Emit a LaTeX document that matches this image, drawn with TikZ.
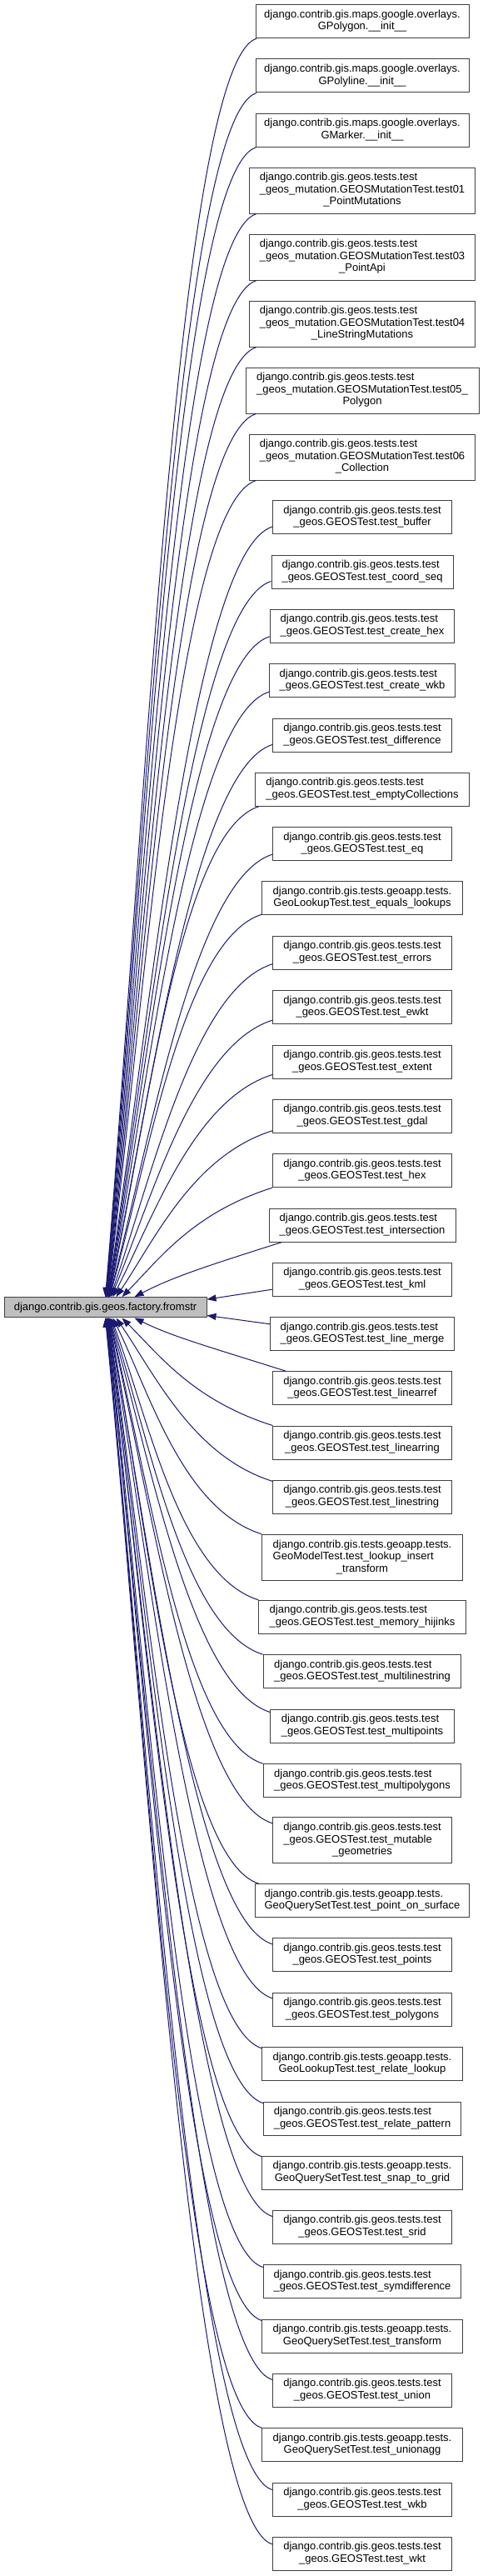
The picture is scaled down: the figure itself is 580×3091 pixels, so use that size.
\documentclass[tikz,border=0pt]{standalone}
\usepackage{fontspec}
\setmainfont{Liberation Sans}
\usetikzlibrary{calc,arrows.meta}
\definecolor{edgeblue}{HTML}{191970}
\definecolor{boxline}{HTML}{404040}
\definecolor{mainfill}{HTML}{BFBFBF}
\newcommand\lblii[2]{\begin{tabular}{@{}l@{}}#1\\\multicolumn{1}{@{}c@{}}{#2}\end{tabular}}
\newcommand\lbliii[3]{\begin{tabular}{@{}l@{}}#1\\#2\\\multicolumn{1}{@{}c@{}}{#3}\end{tabular}}
\newcommand\upedge[4]{\draw[edge] let \p1=($(#1.south west)+(#2,-#3)$), \p2=($(main.north west)+(#4,0)$) in (\p1) .. controls ({\x1-95pt},{\y1-30pt}) and ({\x2+0.25*(\x1-\x2)},{\y2+0.35*(\y1-\y2)}) .. (\p2);}
\newcommand\downedge[4]{\draw[edge] let \p1=($(#1.north west)+(#2,#3)$), \p2=($(main.south west)+(#4,0)$) in (\p1) .. controls ({\x1-95pt},{\y1+30pt}) and ({\x2+0.25*(\x1-\x2)},{\y2+0.35*(\y1-\y2)}) .. (\p2);}
\newcommand\GT{django.contrib.gis.geos.tests.test}
\newcommand\GA{django.contrib.gis.tests.geoapp.tests.}
\newcommand\GM{django.contrib.gis.maps.google.overlays.}
\begin{document}
\begin{tikzpicture}[x=1pt,y=-1pt,
  font=\fontsize{13}{14.5}\selectfont,
  box/.style={draw=boxline, line width=1pt, fill=white, rectangle, inner xsep=2pt, inner ysep=0pt, minimum height=40pt, text=black},
  tall/.style={minimum height=55pt},
  edge/.style={draw=edgeblue, line width=1pt, -{Triangle[length=11pt,width=8pt]}}]
\useasboundingbox (0,0) rectangle (580,3091);
\node[box, fill=mainfill, minimum width=243pt, minimum height=24.3pt] (main) at (126.5,1568.8) {django.contrib.gis.geos.factory.fromstr};
\node[box, minimum width=256pt] (n1) at (435,25.7) {\lblii{\GM}{GPolygon.\_\_init\_\_}};
\node[box, minimum width=256pt] (n2) at (435,91) {\lblii{\GM}{GPolyline.\_\_init\_\_}};
\node[box, minimum width=256pt] (n3) at (435,156.3) {\lblii{\GM}{GMarker.\_\_init\_\_}};
\node[box, tall, minimum width=271pt] (n4) at (435,228.5) {\lbliii{\GT}{\_geos\_mutation.GEOSMutationTest.test01}{\_PointMutations}};
\node[box, tall, minimum width=271pt] (n5) at (435,308.5) {\lbliii{\GT}{\_geos\_mutation.GEOSMutationTest.test03}{\_PointApi}};
\node[box, tall, minimum width=271pt] (n6) at (435,388.5) {\lbliii{\GT}{\_geos\_mutation.GEOSMutationTest.test04}{\_LineStringMutations}};
\node[box, tall, minimum width=280pt] (n7) at (435,468.5) {\lbliii{\GT}{\_geos\_mutation.GEOSMutationTest.test05\_}{Polygon}};
\node[box, tall, minimum width=271pt] (n8) at (435,548.5) {\lbliii{\GT}{\_geos\_mutation.GEOSMutationTest.test06}{\_Collection}};
\node[box, minimum width=215pt] (n9) at (435,620.5) {\lblii{\GT}{\_geos.GEOSTest.test\_buffer}};
\node[box, minimum width=218pt] (n10) at (435,686) {\lblii{\GT}{\_geos.GEOSTest.test\_coord\_seq}};
\node[box, minimum width=221.7pt] (n11) at (435,751.3) {\lblii{\GT}{\_geos.GEOSTest.test\_create\_hex}};
\node[box, minimum width=223pt] (n12) at (435,816.7) {\lblii{\GT}{\_geos.GEOSTest.test\_create\_wkb}};
\node[box, minimum width=215pt] (n13) at (435,882) {\lblii{\GT}{\_geos.GEOSTest.test\_difference}};
\node[box, minimum width=257.7pt] (n14) at (435,947.3) {\lblii{\GT}{\_geos.GEOSTest.test\_emptyCollections}};
\node[box, minimum width=215pt] (n15) at (435,1012.7) {\lblii{\GT}{\_geos.GEOSTest.test\_eq}};
\node[box, minimum width=240.3pt] (n16) at (435,1077.7) {\lblii{\GA}{GeoLookupTest.test\_equals\_lookups}};
\node[box, minimum width=215pt] (n17) at (435,1143.3) {\lblii{\GT}{\_geos.GEOSTest.test\_errors}};
\node[box, minimum width=215pt] (n18) at (435,1208.7) {\lblii{\GT}{\_geos.GEOSTest.test\_ewkt}};
\node[box, minimum width=215pt] (n19) at (435,1274) {\lblii{\GT}{\_geos.GEOSTest.test\_extent}};
\node[box, minimum width=215pt] (n20) at (435,1339.3) {\lblii{\GT}{\_geos.GEOSTest.test\_gdal}};
\node[box, minimum width=215pt] (n21) at (435,1404.7) {\lblii{\GT}{\_geos.GEOSTest.test\_hex}};
\node[box, minimum width=224pt] (n22) at (435,1470) {\lblii{\GT}{\_geos.GEOSTest.test\_intersection}};
\node[box, minimum width=215.5pt] (n23) at (435,1535.3) {\lblii{\GT}{\_geos.GEOSTest.test\_kml}};
\node[box, minimum width=220.4pt] (n24) at (435,1600.5) {\lblii{\GT}{\_geos.GEOSTest.test\_line\_merge}};
\node[box, minimum width=215.5pt] (n25) at (435,1665.7) {\lblii{\GT}{\_geos.GEOSTest.test\_linearref}};
\node[box, minimum width=215pt] (n26) at (435,1731) {\lblii{\GT}{\_geos.GEOSTest.test\_linearring}};
\node[box, minimum width=215pt] (n27) at (435,1796.3) {\lblii{\GT}{\_geos.GEOSTest.test\_linestring}};
\node[box, tall, minimum width=240.3pt] (n28) at (435,1868.8) {\lbliii{\GA}{GeoModelTest.test\_lookup\_insert}{\_transform}};
\node[box, minimum width=248.3pt] (n29) at (435,1940.3) {\lblii{\GT}{\_geos.GEOSTest.test\_memory\_hijinks}};
\node[box, minimum width=237.7pt] (n30) at (435,2005.7) {\lblii{\GT}{\_geos.GEOSTest.test\_multilinestring}};
\node[box, minimum width=220.3pt] (n31) at (435,2071) {\lblii{\GT}{\_geos.GEOSTest.test\_multipoints}};
\node[box, minimum width=237.7pt] (n32) at (435,2136.7) {\lblii{\GT}{\_geos.GEOSTest.test\_multipolygons}};
\node[box, tall, minimum width=215pt] (n33) at (435,2208.2) {\lbliii{\GT}{\_geos.GEOSTest.test\_mutable}{\_geometries}};
\node[box, minimum width=257.7pt] (n34) at (435,2280.7) {\lblii{\GA}{GeoQuerySetTest.test\_point\_on\_surface}};
\node[box, minimum width=215pt] (n35) at (435,2345.7) {\lblii{\GT}{\_geos.GEOSTest.test\_points}};
\node[box, minimum width=215pt] (n36) at (435,2411) {\lblii{\GT}{\_geos.GEOSTest.test\_polygons}};
\node[box, minimum width=240.3pt] (n37) at (435,2476.7) {\lblii{\GA}{GeoLookupTest.test\_relate\_lookup}};
\node[box, minimum width=236.3pt] (n38) at (435,2542.3) {\lblii{\GT}{\_geos.GEOSTest.test\_relate\_pattern}};
\node[box, minimum width=240.3pt] (n39) at (435,2607.3) {\lblii{\GA}{GeoQuerySetTest.test\_snap\_to\_grid}};
\node[box, minimum width=215pt] (n40) at (435,2672.3) {\lblii{\GT}{\_geos.GEOSTest.test\_srid}};
\node[box, minimum width=237.7pt] (n41) at (435,2737.7) {\lblii{\GT}{\_geos.GEOSTest.test\_symdifference}};
\node[box, minimum width=240.3pt] (n42) at (435,2803) {\lblii{\GA}{GeoQuerySetTest.test\_transform}};
\node[box, minimum width=215pt] (n43) at (435,2868.3) {\lblii{\GT}{\_geos.GEOSTest.test\_union}};
\node[box, minimum width=240.8pt] (n44) at (435,2933.7) {\lblii{\GA}{GeoQuerySetTest.test\_unionagg}};
\node[box, minimum width=215.5pt] (n45) at (435,2999) {\lblii{\GT}{\_geos.GEOSTest.test\_wkb}};
\node[box, minimum width=215.5pt] (n46) at (435,3064.3) {\lblii{\GT}{\_geos.GEOSTest.test\_wkt}};
% upper edges
\upedge{n1}{1.5}{0}{122}
\upedge{n2}{1.5}{0}{122.3}
\upedge{n3}{1}{0}{122.7}
\upedge{n4}{9}{0}{123}
\upedge{n5}{9}{0}{123.3}
\upedge{n6}{9}{0}{123.7}
\upedge{n7}{13}{0}{124}
\upedge{n8}{8.5}{0}{124.3}
\upedge{n9}{0}{9}{124.7}
\upedge{n10}{0}{9}{125}
\upedge{n11}{0}{8}{125.3}
\upedge{n12}{0}{7}{125.7}
\upedge{n13}{0}{9}{126}
\upedge{n14}{5}{0}{126.3}
\upedge{n15}{0}{8}{126.7}
\upedge{n16}{0}{1}{127}
\upedge{n17}{0}{7}{128}
\upedge{n18}{0}{5}{129}
\upedge{n19}{0}{5}{131}
\upedge{n20}{0}{3}{135}
\upedge{n21}{0}{0}{142}
\upedge{n22}{16}{0}{157}
% side edges
\draw[edge] ($(n23.south west)+(0,-8.6)$) -- ($(main.north east)+(0,3)$);
\draw[edge] ($(n24.north west)+(0,8.8)$) -- ($(main.south east)+(0,-3)$);
% lower edges
\downedge{n25}{16.5}{0}{157}
\downedge{n26}{0.5}{0}{142}
\downedge{n27}{0}{1.5}{135}
\downedge{n28}{0}{0}{131}
\downedge{n29}{0}{0}{129}
\downedge{n30}{0}{0}{128}
\downedge{n31}{0}{4}{127}
\downedge{n32}{0}{0}{126.7}
\downedge{n33}{0}{7.6}{126.3}
\downedge{n34}{5}{0}{126}
\downedge{n35}{0}{7.6}{125.7}
\downedge{n36}{0}{7.3}{125.3}
\downedge{n37}{0}{1.6}{125}
\downedge{n38}{0}{2}{124.7}
\downedge{n39}{0}{1}{124.3}
\downedge{n40}{0}{7.7}{124}
\downedge{n41}{0}{3.3}{123.7}
\downedge{n42}{0}{2}{123.3}
\downedge{n43}{0}{7.7}{123}
\downedge{n44}{0}{0}{122.7}
\downedge{n45}{0}{9}{122.3}
\downedge{n46}{0}{9}{122}
\end{tikzpicture}
\end{document}
